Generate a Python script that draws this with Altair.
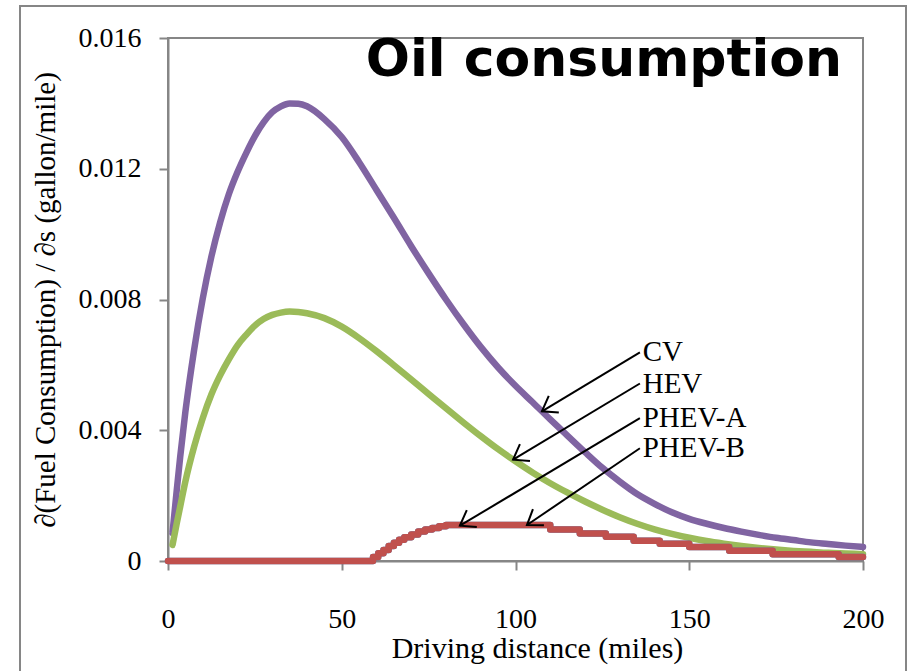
import math
import altair as alt
import pandas as pd

# Plot area size in pixels
W, H = 695, 523
X_MAX, Y_MAX = 200, 0.016

# Marginal oil consumption per mile versus daily driving distance
dist = [1.3, 2.5, 3.5, 5, 7.5, 10, 12.5, 15, 17.5, 20, 22.5, 25, 27.5, 30, 32.5, 35, 37.5,
        40, 45, 50, 55, 60, 65, 70, 75, 80, 85, 90, 95, 100, 105, 110, 115, 120, 125, 130,
        135, 140, 145, 150, 155, 160, 165, 170, 175, 180, 185, 190, 195, 200]

cv_v = [0.00086, 0.00215, 0.00318, 0.00456, 0.00645, 0.00803, 0.00932, 0.01036, 0.01122,
        0.0119, 0.01248, 0.013, 0.01342, 0.01373, 0.01391, 0.014, 0.01399, 0.01391,
        0.01352, 0.01297, 0.0122, 0.01135, 0.0105, 0.00963, 0.0088, 0.008, 0.00725,
        0.00655, 0.00592, 0.00536, 0.00485, 0.00433, 0.00383, 0.00333, 0.00285, 0.00243,
        0.00205, 0.00175, 0.00149, 0.00129, 0.00114, 0.00101, 0.0009, 0.0008, 0.00071,
        0.00064, 0.00057, 0.00052, 0.00047, 0.00043]

hev_v = [0.00049, 0.00114, 0.00166, 0.00243, 0.00349, 0.00437, 0.0051, 0.00568, 0.00617,
         0.0066, 0.00692, 0.0072, 0.0074, 0.00753, 0.0076, 0.00763, 0.00762, 0.00758,
         0.00743, 0.00717, 0.00682, 0.00642, 0.00599, 0.00555, 0.00511, 0.00467, 0.00424,
         0.00382, 0.00342, 0.00305, 0.0027, 0.00238, 0.00209, 0.00182, 0.00157, 0.00134,
         0.00114, 0.00097, 0.00083, 0.00071, 0.00061, 0.00053, 0.00046, 0.0004, 0.00035,
         0.00031, 0.00028, 0.00025, 0.00023, 0.00021]

# PHEV-A and PHEV-B coincide (stepwise profile)
phev_s = [0, 59, 60.5, 62, 63.5, 65, 66.5, 68, 70, 72, 74, 76, 78, 80, 110, 118.5, 126,
          134, 141.5, 150, 161.5, 174, 193, 200]
phev_v = [0, 0.00012, 0.00024, 0.00034, 0.00046, 0.00056, 0.00065, 0.00073, 0.00081,
          0.0009, 0.00096, 0.00101, 0.00106, 0.0011, 0.00096, 0.00084, 0.00074, 0.00062,
          0.00053, 0.00043, 0.00031, 0.00021, 0.00012, 0.00012]

# Callout labels with arrows
labels = ["CV", "HEV", "PHEV-A", "PHEV-B"]
label_s = [136.6, 136.6, 136.6, 136.6]
tail_s = [135.8, 135.8, 135.8, 135.8]
tail_v = [0.00638, 0.00543, 0.00437, 0.00345]
tip_s = [107.6, 99.3, 84.0, 103.3]
tip_v = [0.00458, 0.0031, 0.00108, 0.0011]

x_ticks = [0, 50, 100, 150, 200]
y_ticks = [0, 0.004, 0.008, 0.012, 0.016]

GRAY = "#868686"
SERIF = "Liberation Serif"

# Arrowhead rotation in screen space
angles = []
for ts, tv, ps, pv in zip(tail_s, tail_v, tip_s, tip_v):
    dx = (ps - ts) * W / X_MAX
    dy = -(pv - tv) * H / Y_MAX
    angles.append(math.degrees(math.atan2(dx, -dy)) % 360)

arrows = pd.DataFrame({"label": labels, "s": tail_s, "v": tail_v,
                       "s2": tip_s, "v2": tip_v, "angle": angles, "ls": label_s})

x_scale = alt.Scale(domain=[0, X_MAX], nice=False, zero=False)
y_scale = alt.Scale(domain=[0, Y_MAX], nice=False)

x_axis = alt.Axis(values=x_ticks, title="Driving distance (miles)", grid=False,
                  tickSize=9, tickWidth=2, tickColor=GRAY, domainColor=GRAY, domainWidth=2,
                  labelFont=SERIF, labelFontSize=28, labelColor="black",
                  labelBaseline="alphabetic", labelPadding=57, labelFlush=False,
                  labelOverlap=False, titleFont=SERIF, titleFontSize=30,
                  titleFontWeight="normal", titleColor="black", titleX=369, titleY=96,
                  titleBaseline="alphabetic", titleAlign="center")
y_axis = alt.Axis(values=y_ticks, format=".3~f", title="∂(Fuel Consumption) / ∂s (gallon/mile)",
                  grid=False, tickSize=9, tickWidth=2, tickColor=GRAY, domainColor=GRAY,
                  domainWidth=2, labelFont=SERIF, labelFontSize=28, labelColor="black",
                  labelPadding=18, labelBaseline="middle", labelOverlap=False,
                  titleFont=SERIF, titleFontSize=29, titleFontWeight="normal",
                  titleColor="black", titleX=-114, titleY=H / 2, titleAngle=-90,
                  titleBaseline="alphabetic", titleAlign="center")


def series(s, v, color, interp):
    df = pd.DataFrame({"s": s, "v": v})
    return alt.Chart(df).mark_line(color=color, strokeWidth=6.5, strokeCap="round",
                                   strokeJoin="round", interpolate=interp).encode(
        x=alt.X("s:Q", scale=x_scale, axis=x_axis),
        y=alt.Y("v:Q", scale=y_scale, axis=y_axis),
    )


cv = series(dist, cv_v, "#8064A2", "monotone")
hev = series(dist, hev_v, "#9BBB59", "monotone")
phev_a = series(phev_s, phev_v, "#4F81BD", "step-after")
phev_b = series(phev_s, phev_v, "#C0504D", "step-after")

shafts = alt.Chart(arrows).mark_rule(color="black", strokeWidth=2).encode(
    x="s:Q", y="v:Q", x2="s2:Q", y2="v2:Q")

heads = alt.Chart(arrows).mark_point(
    shape="M -0.69 0.98 L 0 0 L 0.69 0.98", filled=False, color="black",
    strokeWidth=2, size=800, opacity=1).encode(
    x="s2:Q", y="v2:Q", angle=alt.Angle("angle:Q", scale=None))

callouts = alt.Chart(arrows).mark_text(
    align="left", baseline="middle", font=SERIF, fontSize=29, color="black").encode(
    x="ls:Q", y="v:Q", text="label:N")

heading = alt.Chart(pd.DataFrame({"t": ["Oil consumption"]})).mark_text(
    align="right", baseline="alphabetic", font="DejaVu Sans", fontWeight="bold",
    fontSize=52, color="black").encode(
    x=alt.value(674), y=alt.value(38), text="t:N")

frame = alt.Chart(pd.DataFrame({"k": [0]})).mark_rect(
    filled=False, stroke=GRAY, strokeWidth=2).encode(
    x=alt.value(-148), x2=alt.value(738), y=alt.value(-32), y2=alt.value(700))

chart = alt.layer(frame, cv, hev, phev_a, phev_b, shafts, heads, callouts, heading).properties(
    width=W, height=H,
    padding={"left": 168, "top": 38, "right": 48, "bottom": 110},
    autosize=alt.AutoSizeParams(type="none"),
    background="white",
).configure_view(stroke=GRAY, strokeWidth=2)

chart.save("out.html", embed_options={"renderer": "svg", "actions": False})
